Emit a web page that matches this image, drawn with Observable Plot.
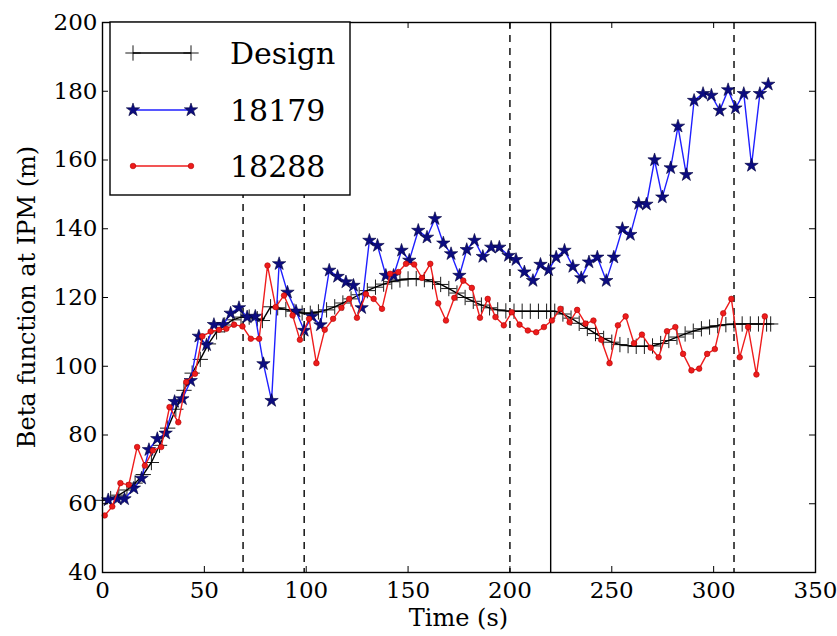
<!DOCTYPE html>
<html>
<head>
<meta charset="utf-8">
<script src="https://cdn.jsdelivr.net/npm/d3@7"></script>
<script src="https://cdn.jsdelivr.net/npm/@observablehq/plot@0.6"></script>
<style>
  html, body { margin: 0; padding: 0; background: white; }
  #chart { width: 837px; height: 636px; }
</style>
</head>
<body>
<div id="chart"></div>
<script>
// ---- Data ----
const designT = [0, 4, 8, 12, 16, 20, 24, 28, 32, 36, 40, 44, 48, 52, 56, 60, 64, 68, 72, 76, 78.5, 82.5, 86, 90, 94, 98, 102, 106, 110, 114, 118, 122, 126, 130, 134, 138, 142, 146, 150, 154, 158, 162, 166, 170, 174, 178, 182, 186, 190, 194, 198, 202, 206, 210, 214, 218, 222, 226, 230, 234, 238, 242, 246, 250, 254, 258, 262, 266, 270, 274, 278, 282, 286, 290, 294, 298, 302, 306, 310, 314, 318, 322, 326, 328];
const designV = [61, 61.5, 62.5, 64, 66, 68.5, 72, 77, 82, 87.5, 93, 98, 102, 106.5, 110, 112, 113.5, 114.3, 114.3, 113.8, 113.3, 117.3, 117, 116.5, 116, 115.5, 115.4, 115.8, 116.4, 117.3, 118.4, 119.6, 120.8, 122, 123, 123.9, 124.6, 125.1, 125.4, 125.5, 125.2, 124.6, 123.8, 122.6, 121.3, 120, 118.9, 117.8, 117, 116.4, 116.1, 116, 116, 116, 116, 116, 116, 115.2, 114, 112.5, 111, 109.5, 108.1, 107, 106.3, 106, 105.8, 105.8, 105.9, 106.6, 107.5, 108.5, 109.4, 110.2, 110.9, 111.4, 111.8, 112.1, 112.3, 112.3, 112.3, 112.3, 112.3, 112.3];

const run18179T = [2.8, 7.2, 10.8, 15.4, 19.2, 22.8, 26.9, 31, 35.4, 39.2, 43.3, 47.3, 51.1, 54.7, 59.3, 62.9, 67, 71, 75, 79, 83, 86.7, 90.8, 95, 99, 102.8, 107, 111.3, 115.4, 119.5, 123.2, 127.2, 131, 135, 139.1, 142.9, 146.8, 150.6, 155, 159.3, 163.2, 167.3, 171.1, 175.2, 178.8, 182.6, 186.7, 190.8, 194.8, 199.3, 203, 207.1, 211.3, 215, 219, 222.7, 226.8, 230.9, 235, 238.8, 242.9, 247.3, 251, 255.2, 259.1, 263.2, 267, 271, 274.8, 278.9, 282.5, 286.6, 290.4, 294.8, 298.9, 303, 307.1, 310.7, 314.8, 318.6, 322.7, 326.8];
const run18179V = [61.1, 61.4, 61.4, 64.5, 67.4, 75.7, 78.9, 80.5, 89.7, 90.5, 95.8, 108.7, 106.2, 112.1, 112.1, 115.4, 117, 114.3, 114.5, 100.7, 90, 129.8, 121.5, 116, 110.4, 114.5, 112, 127.9, 126.1, 124.5, 123.5, 117, 136.6, 135.1, 126.4, 126.4, 133.7, 130.8, 139.5, 137.5, 142.9, 135.8, 132.7, 126.4, 133.9, 136.6, 131.9, 134.6, 134.6, 132.2, 131, 127.4, 124.9, 129.6, 128, 131.7, 133.7, 129, 125.7, 130.3, 131.7, 124.9, 131.7, 140, 138.3, 147.3, 147.1, 160, 149.2, 157.7, 169.8, 155.7, 177.3, 179.3, 178.8, 174.4, 180.4, 175.1, 179.3, 158.4, 179.3, 182];

const run18288T = [1.1, 4.8, 8.8, 12.9, 17, 20.8, 24.7, 28.8, 32.9, 37.2, 41.1, 45.4, 49, 53.1, 57.2, 60.8, 64.6, 68.7, 72.8, 76.9, 81, 85, 89.1, 93.3, 96.9, 101.4, 105, 109.1, 113.2, 117.3, 121.1, 124.9, 129.3, 133.1, 137.2, 141.2, 145.2, 149, 153, 156.8, 160.9, 164.8, 168.6, 172.7, 177.1, 181.3, 185.3, 189.1, 192.9, 197, 200.9, 204.7, 208.8, 212.9, 216.7, 220.6, 224.8, 229.3, 233, 237.1, 241, 244.8, 248.9, 253, 256.8, 260.9, 264.8, 269.1, 273, 277.1, 281.2, 285, 289.1, 292.9, 296.8, 300.6, 304.7, 308.7, 312.8, 316.9, 321, 325.1];
const run18288V = [56.6, 59.2, 66, 65.5, 76.5, 71.1, 75.5, 76.5, 88.1, 83.7, 95.4, 97.8, 108.7, 110.1, 110.6, 110.9, 112.1, 111.6, 108, 108, 129.3, 117.2, 120.6, 114.8, 107.7, 113.8, 100.9, 110.6, 113.8, 117, 119.6, 114.1, 121, 119.6, 116.7, 126.9, 127.4, 129.8, 129.6, 125.7, 129.8, 118.3, 113.3, 119.9, 124.9, 122.8, 114.1, 119.6, 114.3, 111.9, 115.7, 112.1, 110.4, 109.9, 111.4, 113.3, 116.7, 112.8, 116.4, 112.4, 113.3, 107.7, 100.9, 111.9, 114.5, 106.7, 109.2, 105.4, 102.6, 110.2, 111.4, 103.6, 98.8, 99.3, 103.6, 105, 115.4, 119.6, 102.6, 111.4, 97.6, 114.5];

const dashedTimes = [69, 99, 200, 310];
const solidTimes = [220];
const xTicks = [0, 50, 100, 150, 200, 250, 300, 350];
const yTicks = [40, 60, 80, 100, 120, 140, 160, 180, 200];
const seriesNames = ["Design", "18179", "18288"];
const xLabel = "Time (s)";
const yLabel = "Beta function at IPM (m)";

// ---- Build tables ----
const design = designT.map((t, i) => ({t, v: designV[i]}));
const s18179 = run18179T.map((t, i) => ({t, v: run18179V[i]}));
const s18288 = run18288T.map((t, i) => ({t, v: run18288V[i]}));

const FONT = "'DejaVu Serif', 'Liberation Serif', serif";
const BLUE_LINE = "#1f1fff";
const STAR_FILL = "#0c0c80";
const RED = "#ee1c1c";

const xTickLen = 6 / 2.034;   // ~6px in data units
const yTickLen = 6 / 3.4375;

const plot = Plot.plot({
  width: 837,
  height: 636,
  marginLeft: 102,
  marginRight: 22,
  marginTop: 22,
  marginBottom: 64,
  x: {domain: [0, 350]},
  y: {domain: [40, 200]},
  style: {fontFamily: FONT, fontSize: "23px", background: "white", color: "black"},
  marks: [
    Plot.ruleX(dashedTimes, {x: d => d, stroke: "black", strokeWidth: 1.4, strokeDasharray: "7,6"}),
    Plot.ruleX(solidTimes, {x: d => d, stroke: "black", strokeWidth: 1.4}),
    Plot.line(design, {x: "t", y: "v", stroke: "black", strokeWidth: 1.4}),
    Plot.dot(design, {x: "t", y: "v", symbol: "plus", r: 5, stroke: "black", strokeWidth: 0.9}),
    Plot.line(s18179, {x: "t", y: "v", stroke: BLUE_LINE, strokeWidth: 1.4}),
    Plot.dot(s18179, {x: "t", y: "v", symbol: "star", r: 4.2, fill: STAR_FILL, stroke: "#00003a", strokeWidth: 0.6}),
    Plot.line(s18288, {x: "t", y: "v", stroke: RED, strokeWidth: 1.4}),
    Plot.dot(s18288, {x: "t", y: "v", r: 2.8, fill: RED, stroke: "#b00000", strokeWidth: 0.6}),
    Plot.ruleX(xTicks, {x: d => d, y1: 40, y2: 40 + yTickLen, stroke: "black", strokeWidth: 1}),
    Plot.ruleX(xTicks, {x: d => d, y1: 200 - yTickLen, y2: 200, stroke: "black", strokeWidth: 1}),
    Plot.ruleY(yTicks, {y: d => d, x1: 0, x2: xTickLen, stroke: "black", strokeWidth: 1}),
    Plot.ruleY(yTicks, {y: d => d, x1: 350 - xTickLen, x2: 350, stroke: "black", strokeWidth: 1}),
    Plot.axisX(xTicks, {anchor: "bottom", tickSize: 0, tickPadding: 9, label: null, fontSize: 23}),
    Plot.axisY(yTicks, {anchor: "left", tickSize: 0, tickPadding: 5, label: null, fontSize: 23}),
    Plot.frame({stroke: "black", strokeWidth: 1.4})
  ]
});

document.getElementById("chart").appendChild(plot);

const svg = d3.select(plot);

// ---- Axis titles ----
svg.append("text").attr("x", (102 + 815) / 2).attr("y", 618).attr("dy", "0.35em")
  .attr("text-anchor", "middle").attr("font-family", FONT).attr("font-size", 24)
  .attr("fill", "black").text(xLabel);
svg.append("text").attr("transform", `translate(27,${(22 + 572) / 2}) rotate(-90)`).attr("dy", "0.35em")
  .attr("text-anchor", "middle").attr("font-family", FONT).attr("font-size", 24)
  .attr("fill", "black").text(yLabel);

// ---- Legend (drawn on top, like matplotlib's upper-left legend) ----
const lg = svg.append("g").attr("font-family", FONT).attr("text-anchor", "start");
lg.append("rect").attr("x", 110).attr("y", 22).attr("width", 240).attr("height", 173)
  .attr("fill", "white").attr("stroke", "black").attr("stroke-width", 1.4);
const rows = [
  {name: seriesNames[0], y: 53, stroke: "black", sym: d3.symbolPlus, size: Math.PI * 25, fill: "none", symStroke: "black"},
  {name: seriesNames[1], y: 110, stroke: BLUE_LINE, sym: d3.symbolStar, size: Math.PI * 4.2 * 4.2, fill: STAR_FILL, symStroke: "#00003a"},
  {name: seriesNames[2], y: 166, stroke: RED, sym: d3.symbolCircle, size: Math.PI * 2.8 * 2.8, fill: RED, symStroke: "#b00000"}
];
rows.forEach(r => {
  lg.append("line").attr("x1", 133).attr("x2", 191).attr("y1", r.y).attr("y2", r.y)
    .attr("stroke", r.stroke).attr("stroke-width", 1.4);
  [133, 191].forEach(x => {
    lg.append("path").attr("d", d3.symbol(r.sym, r.size)())
      .attr("transform", `translate(${x},${r.y})`)
      .attr("fill", r.fill).attr("stroke", r.symStroke).attr("stroke-width", r.sym === d3.symbolPlus ? 0.9 : 0.6);
  });
  lg.append("text").attr("x", 230).attr("y", r.y).attr("dy", "0.35em")
    .attr("text-anchor", "start").attr("font-size", 30).attr("fill", "black").text(r.name);
});
</script>
</body>
</html>
